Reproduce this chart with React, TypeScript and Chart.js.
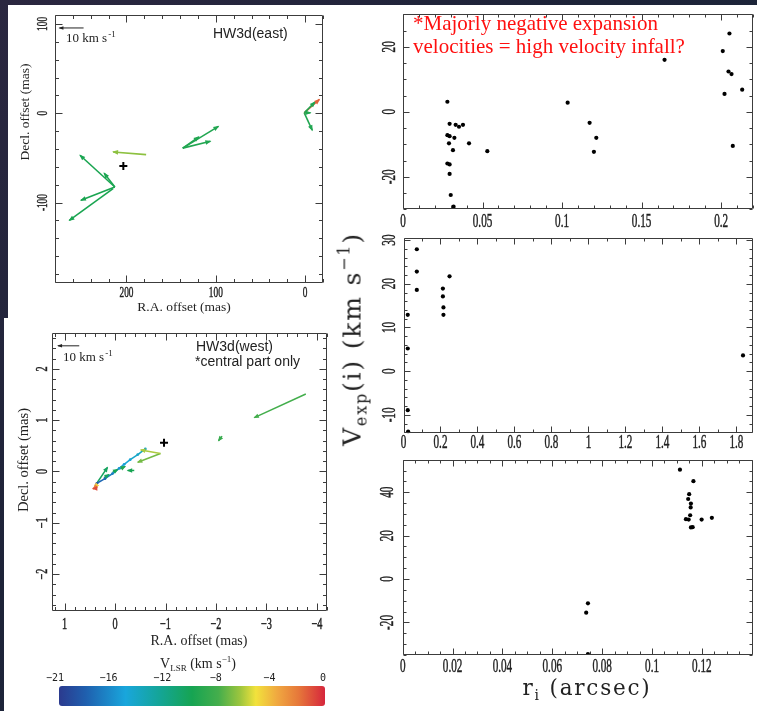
import { useEffect, useRef } from 'react';
import { Chart, registerables } from 'chart.js';

Chart.register(...registerables);

// ======================= DATA =======================
// HW3d(east): maser proper-motion vectors, start (x1,y1) -> head (x2,y2), offsets in mas
const eastX1 = [1, 1, 1, 1, 137, 137, 137, 178, 213, 213, 213, 215];
const eastY1 = [0.5, 0.5, 0.5, 0.5, -39, -39, -39, -46.3, -82.5, -82.5, -82.5, -84.3];
const eastX2 = [-11, -16, -6, -8, 97, 119, 106, 215, 252, 225, 251, 264];
const eastY2 = [12.6, 15.5, 0.5, -19, -14.6, -26.5, -31.4, -43.3, -47, -67, -97.4, -120];
const eastVlsr = [-10, -1.5, -10, -10, -10, -10, -10, -7, -10.3, -10.3, -10.3, -10.3];
const eastCenterX = [203.5];
const eastCenterY = [-59];
const eastKeyX = [248, 275];
const eastKeyY = [95.5, 95.5];
const eastXTicks = [200, 100, 0];
const eastYTicks = [100, 0, -100];

// HW3d(west), central part only
const westX1 = [-3.78, -2.12, -0.9, -0.9, 0.35, 0.22, 0.05, -0.1, -0.38, 0.38, 0.4, 0.4];
const westY1 = [1.51, 0.69, 0.35, 0.35, -0.21, -0.12, -0.02, 0.05, 0.02, -0.28, -0.31, -0.33];
const westX2 = [-2.76, -2.05, -0.51, -0.45, 0.15, 0.12, -0.05, -0.2, -0.25, 0.41, 0.43, 0.44];
const westY2 = [1.05, 0.6, 0.42, 0.18, 0.08, -0.06, 0.04, 0.1, 0.02, -0.31, -0.34, -0.33];
const westVlsr = [-8.5, -9, -6.5, -7.5, -11, -11, -10.5, -10, -10.5, -5, -2.5, -1];
const westChainX = [-0.6, -0.45, -0.3, -0.18, -0.08, 0.05, 0.2, 0.36];
const westChainY = [0.44, 0.33, 0.23, 0.14, 0.06, -0.04, -0.14, -0.23];
const westChainVlsr = [-14.5, -15, -15.5, -16, -16.5, -17.5, -18.5, -19.5];
const westCenterX = [-0.97];
const westCenterY = [0.56];
const westKeyX = [0.71, 1.13];
const westKeyY = [2.45, 2.45];
const westXTicks = [1, 0, -1, -2, -3, -4];
const westYTicks = [2, 1, 0, -1, -2];

// V_LSR colour bar
const colorbarTicks = [-21, -16, -12, -8, -4, 0];

// Expansion velocity vs radius, three panels
const rExp1 = [0.0279, 0.0293, 0.0279, 0.0293, 0.0289, 0.0323, 0.0314, 0.0331, 0.0352, 0.0377, 0.0415, 0.053, 0.0279, 0.0293, 0.0293, 0.030, 0.0318, 0.1035, 0.1173, 0.1215, 0.120, 0.1644, 0.201, 0.2052, 0.2046, 0.2065, 0.2021, 0.2132, 0.2073];
const vExp1 = [3.1, -3.7, -7.2, -7.5, -9.7, -8.0, -11.8, -4.0, -4.6, -4.0, -9.7, -12.1, -15.9, -16.2, -19.1, -25.6, -29.2, 2.8, -3.4, -8.0, -12.3, 16.0, 18.7, 24.1, 12.4, 11.6, 5.5, 6.8, -10.5];
const rExp2 = [0.072, 0.072, 0.072, 0.023, 0.023, 0.023, 0.025, 0.213, 0.213, 0.216, 0.216, 0.249, 1.836];
const vExp2 = [27.9, 22.8, 18.6, 12.9, 5.2, -8.9, -13.8, 18.9, 17.1, 14.6, 12.9, 21.7, 3.6];
const rExp3 = [0.1112, 0.1166, 0.1149, 0.1145, 0.1156, 0.1155, 0.1153, 0.1136, 0.1147, 0.1199, 0.124, 0.1156, 0.1163, 0.0743, 0.0736, 0.0743];
const vExp3 = [50.4, 45.1, 39.1, 36.9, 34.8, 33.0, 29.4, 27.6, 27.4, 27.4, 28.2, 23.8, 23.9, -11.2, -15.5, -34.6];
const exp1XTicks = [0, 0.05, 0.1, 0.15, 0.2];
const exp1YTicks = [20, 0, -20];
const exp2XTicks = [0, 0.2, 0.4, 0.6, 0.8, 1, 1.2, 1.4, 1.6, 1.8];
const exp2YTicks = [30, 20, 10, 0, -10];
const exp3XTicks = [0, 0.02, 0.04, 0.06, 0.08, 0.1, 0.12];
const exp3YTicks = [40, 20, 0, -20];

// ======================= STYLE =======================
const SERIF = '"Liberation Serif", "Times New Roman", serif';
const SANS = '"Liberation Sans", Arial, sans-serif';
const TYPE = '"DejaVu Serif", "Liberation Serif", serif';

const CMAP: [number, string][] = [
  [0, '#2b3a8e'], [0.1, '#1f5fae'], [0.25, '#19a6dc'], [0.38, '#14a596'], [0.5, '#16a452'],
  [0.6, '#45ae4c'], [0.68, '#9cc53e'], [0.74, '#f2e23c'], [0.82, '#f0a840'], [0.9, '#e6783a'], [1, '#d6263c'],
];
const VMIN = colorbarTicks[0];
const VMAX = colorbarTicks[colorbarTicks.length - 1];

function hexRgb(h: string) {
  return [parseInt(h.slice(1, 3), 16), parseInt(h.slice(3, 5), 16), parseInt(h.slice(5, 7), 16)];
}
function vColor(v: number) {
  const f = Math.min(1, Math.max(0, (v - VMIN) / (VMAX - VMIN)));
  for (let i = 1; i < CMAP.length; i++) {
    if (f <= CMAP[i][0]) {
      const [f0, c0] = CMAP[i - 1];
      const [f1, c1] = CMAP[i];
      const t = (f - f0) / (f1 - f0);
      const a = hexRgb(c0), b = hexRgb(c1);
      return `rgb(${a.map((x, k) => Math.round(x + (b[k] - x) * t)).join(',')})`;
    }
  }
  return CMAP[CMAP.length - 1][1];
}

type Box = { left: number; top: number; width: number; height: number };
type Area = { left: number; top: number; right: number; bottom: number };
type Txt = {
  text: string; x: number; y: number; size: number; family: string;
  align?: CanvasTextAlign; baseline?: CanvasTextBaseline; rotate?: boolean;
  scaleX?: number; sup?: string; color?: string; bold?: number;
};
type Frame = {
  xMajor: number[]; xLabels: string[]; xMinor: number;
  yMajor: number[]; yLabels: string[]; yMinor: number;
  majorLen: number; minorLen: number; tickSize: number; tickScaleX: number;
  xLabelY: number; yLabelX: number; texts: Txt[];
};

function drawTxt(ctx: CanvasRenderingContext2D, t: Txt, ox: number, oy: number) {
  ctx.save();
  ctx.translate(t.x - ox, t.y - oy);
  if (t.rotate) ctx.rotate(-Math.PI / 2);
  ctx.scale(t.scaleX ?? 1, 1);
  ctx.fillStyle = t.color ?? '#222';
  ctx.strokeStyle = t.color ?? '#222';
  ctx.textBaseline = t.baseline ?? 'alphabetic';
  const mainFont = `${t.size}px ${t.family}`;
  const supFont = `${Math.round(t.size * 0.7)}px ${t.family}`;
  if (t.sup) {
    ctx.font = mainFont;
    const w1 = ctx.measureText(t.text).width;
    ctx.font = supFont;
    const w2 = ctx.measureText(t.sup).width;
    const total = w1 + w2 + 1;
    const x0 = t.align === 'center' ? -total / 2 : t.align === 'right' ? -total : 0;
    ctx.textAlign = 'left';
    ctx.font = mainFont;
    ctx.fillText(t.text, x0, 0);
    ctx.font = supFont;
    ctx.fillText(t.sup, x0 + w1 + 1, -t.size * 0.42);
  } else {
    ctx.font = mainFont;
    ctx.textAlign = t.align ?? 'left';
    ctx.fillText(t.text, 0, 0);
    if (t.bold) {
      ctx.lineWidth = t.bold;
      ctx.strokeText(t.text, 0, 0);
    }
  }
  ctx.restore();
}

function stepValues(lo: number, hi: number, step: number) {
  const out: number[] = [];
  const k0 = Math.ceil(lo / step - 1e-6);
  const k1 = Math.floor(hi / step + 1e-6);
  for (let k = k0; k <= k1; k++) out.push(+(k * step).toFixed(10));
  return out;
}

function makeFramePlugin(f: Frame, box: Box) {
  return {
    id: 'pgframe',
    afterDraw(chart: any) {
      const { ctx, chartArea: a, scales } = chart;
      const xs = scales.x, ys = scales.y;
      const ox = box.left, oy = box.top;
      ctx.save();
      ctx.strokeStyle = '#3c3c3c';
      ctx.lineWidth = 1;
      const L = Math.round(a.left) + 0.5, R = Math.round(a.right) - 0.5;
      const T = Math.round(a.top) + 0.5, B = Math.round(a.bottom) - 0.5;
      ctx.beginPath();
      ctx.rect(L, T, R - L, B - T);
      const isMajor = (arr: number[], v: number, st: number) => arr.some((m) => Math.abs(m - v) < st * 1e-3);
      const xmin = Math.min(xs.min, xs.max), xmax = Math.max(xs.min, xs.max);
      for (const v of stepValues(xmin, xmax, f.xMinor)) {
        const p = Math.round(xs.getPixelForValue(v)) + 0.5;
        const len = isMajor(f.xMajor, v, f.xMinor) ? f.majorLen : f.minorLen;
        ctx.moveTo(p, B); ctx.lineTo(p, B - len);
        ctx.moveTo(p, T); ctx.lineTo(p, T + len);
      }
      const ymin = Math.min(ys.min, ys.max), ymax = Math.max(ys.min, ys.max);
      for (const v of stepValues(ymin, ymax, f.yMinor)) {
        const p = Math.round(ys.getPixelForValue(v)) + 0.5;
        const len = isMajor(f.yMajor, v, f.yMinor) ? f.majorLen : f.minorLen;
        ctx.moveTo(L, p); ctx.lineTo(L + len, p);
        ctx.moveTo(R, p); ctx.lineTo(R - len, p);
      }
      ctx.stroke();
      f.xMajor.forEach((v, i) => {
        drawTxt(ctx, {
          text: f.xLabels[i], x: xs.getPixelForValue(v) + ox, y: f.xLabelY, size: f.tickSize,
          family: SERIF, align: 'center', baseline: 'middle', scaleX: f.tickScaleX, bold: 0.45,
        }, ox, oy);
      });
      f.yMajor.forEach((v, i) => {
        drawTxt(ctx, {
          text: f.yLabels[i], x: f.yLabelX, y: ys.getPixelForValue(v) + oy, size: f.tickSize,
          family: SERIF, align: 'center', baseline: 'middle', rotate: true, scaleX: f.tickScaleX, bold: 0.45,
        }, ox, oy);
      });
      f.texts.forEach((t) => drawTxt(ctx, t, ox, oy));
      ctx.restore();
    },
  };
}

const arrowPlugin = {
  id: 'arrowheads',
  afterDatasetsDraw(chart: any) {
    const ctx = chart.ctx as CanvasRenderingContext2D;
    const ca = chart.chartArea;
    chart.data.datasets.forEach((ds: any, i: number) => {
      if (!ds.head) return;
      const pts = chart.getDatasetMeta(i).data;
      if (pts.length < 2) return;
      const p0 = pts[pts.length - 2], p1 = pts[pts.length - 1];
      const ang = Math.atan2(p1.y - p0.y, p1.x - p0.x);
      const len = ds.headLen ?? 5;
      const w = ds.headWidth ?? 2.3;
      ctx.save();
      ctx.beginPath();
      ctx.rect(ca.left, ca.top, ca.right - ca.left, ca.bottom - ca.top);
      ctx.clip();
      ctx.translate(p1.x, p1.y);
      ctx.rotate(ang);
      ctx.fillStyle = ds.borderColor;
      ctx.beginPath();
      ctx.moveTo(1, 0);
      ctx.lineTo(-len, w);
      ctx.lineTo(-len, -w);
      ctx.closePath();
      ctx.fill();
      ctx.restore();
    });
  },
};

function arrowSets(x1: number[], y1: number[], x2: number[], y2: number[], v: number[], width: number, headLen: number) {
  return x1.map((_, i) => ({
    data: [{ x: x1[i], y: y1[i] }, { x: x2[i], y: y2[i] }],
    showLine: true,
    borderColor: vColor(v[i]),
    backgroundColor: vColor(v[i]),
    borderWidth: width,
    pointRadius: 0,
    head: true,
    headLen,
  }));
}

function plusSet(x: number[], y: number[]) {
  return {
    data: x.map((xx, i) => ({ x: xx, y: y[i] })),
    pointStyle: 'cross',
    pointRadius: 4,
    borderColor: '#000',
    borderWidth: 2,
  };
}

function keySet(x: number[], y: number[]) {
  return {
    data: x.map((xx, i) => ({ x: xx, y: y[i] })),
    showLine: true,
    borderColor: '#222',
    backgroundColor: '#222',
    borderWidth: 1,
    pointRadius: 0,
    head: true,
    headLen: 4,
    headWidth: 1.8,
  };
}

function dotSet(x: number[], y: number[]) {
  return {
    data: x.map((xx, i) => ({ x: xx, y: y[i] })),
    pointRadius: 2.1,
    pointBackgroundColor: '#000',
    pointBorderWidth: 0,
    borderColor: '#000',
  };
}

function makeConfig(box: Box, area: Area, xr: [number, number], yr: [number, number], rev: boolean, datasets: any[], frame: Frame) {
  return {
    type: 'scatter',
    data: { datasets },
    options: {
      responsive: false,
      maintainAspectRatio: false,
      animation: false,
      events: [],
      layout: {
        padding: {
          left: area.left - box.left,
          top: area.top - box.top,
          right: box.left + box.width - area.right,
          bottom: box.top + box.height - area.bottom,
        },
      },
      plugins: { legend: { display: false }, tooltip: { enabled: false } },
      scales: {
        x: { type: 'linear', display: false, min: xr[0], max: xr[1], reverse: rev },
        y: { type: 'linear', display: false, min: yr[0], max: yr[1] },
      },
    },
    plugins: [arrowPlugin, makeFramePlugin(frame, box)],
  };
}

// ======================= PANELS =======================
const EAST_BOX: Box = { left: 8, top: 5, width: 332, height: 313 };
const EAST_AREA: Area = { left: 55, top: 15, right: 323, bottom: 283 };
const WEST_BOX: Box = { left: 4, top: 318, width: 336, height: 393 };
const WEST_AREA: Area = { left: 52, top: 333, right: 327, bottom: 611 };
const E1_BOX: Box = { left: 340, top: 5, width: 417, height: 227 };
const E1_AREA: Area = { left: 403, top: 14.3, right: 753.3, bottom: 209.3 };
const E2_BOX: Box = { left: 340, top: 232, width: 417, height: 223 };
const E2_AREA: Area = { left: 403.5, top: 238.3, right: 753.3, bottom: 433.3 };
const E3_BOX: Box = { left: 340, top: 455, width: 417, height: 256 };
const E3_AREA: Area = { left: 402.7, top: 459.7, right: 753.3, bottom: 655 };

const minusLabel = (v: number) => (v < 0 ? '\u2212' + String(-v) : String(v));

function eastConfig() {
  const datasets = [
    ...arrowSets(eastX1, eastY1, eastX2, eastY2, eastVlsr, 1.6, 5),
    plusSet(eastCenterX, eastCenterY),
    keySet(eastKeyX, eastKeyY),
  ];
  const frame: Frame = {
    xMajor: eastXTicks, xLabels: eastXTicks.map(String), xMinor: 20,
    yMajor: eastYTicks, yLabels: eastYTicks.map(String), yMinor: 20,
    majorLen: 7, minorLen: 3.5, tickSize: 15, tickScaleX: 0.62,
    xLabelY: 293, yLabelX: 43,
    texts: [
      { text: 'HW3d(east)', x: 213, y: 38, size: 14, family: SANS },
      { text: '10 km s', sup: '-1', x: 66, y: 42, size: 13, family: SERIF },
      { text: 'Decl. offset (mas)', x: 25, y: 112, size: 13.5, family: SERIF, align: 'center', baseline: 'middle', rotate: true },
      { text: 'R.A. offset (mas)', x: 184, y: 307, size: 13.5, family: SERIF, align: 'center', baseline: 'middle' },
    ],
  };
  return makeConfig(EAST_BOX, EAST_AREA, [-20, 280], [-190, 110], true, datasets, frame);
}

function westConfig() {
  const chain = {
    data: westChainX.map((x, i) => ({ x, y: westChainY[i] })),
    showLine: true,
    borderWidth: 1.6,
    borderColor: vColor(westChainVlsr[0]),
    segment: { borderColor: (c: any) => vColor(westChainVlsr[c.p0DataIndex]) },
    pointRadius: 1.4,
    pointBorderWidth: 0,
    pointBackgroundColor: westChainVlsr.map(vColor),
  };
  const datasets = [
    chain,
    ...arrowSets(westX1, westY1, westX2, westY2, westVlsr, 1.5, 4.5),
    plusSet(westCenterX, westCenterY),
    keySet(westKeyX, westKeyY),
  ];
  const frame: Frame = {
    xMajor: westXTicks, xLabels: westXTicks.map(minusLabel), xMinor: 0.2,
    yMajor: westYTicks, yLabels: westYTicks.map(minusLabel), yMinor: 0.2,
    majorLen: 7, minorLen: 3.5, tickSize: 16, tickScaleX: 0.64,
    xLabelY: 625, yLabelX: 43,
    texts: [
      { text: 'HW3d(west)', x: 196, y: 351, size: 14, family: SANS },
      { text: '*central part only', x: 195, y: 366, size: 14, family: SANS },
      { text: '10 km s', sup: '-1', x: 63, y: 361, size: 13, family: SERIF },
      { text: 'Decl. offset (mas)', x: 24, y: 460, size: 14.5, family: SERIF, align: 'center', baseline: 'middle', rotate: true },
      { text: 'R.A. offset (mas)', x: 199, y: 641, size: 14, family: SERIF, align: 'center', baseline: 'middle' },
    ],
  };
  return makeConfig(WEST_BOX, WEST_AREA, [-4.2, 1.25], [-2.72, 2.7], true, datasets, frame);
}

function expConfig(box: Box, area: Area, r: number[], v: number[], xr: [number, number], yr: [number, number],
  xt: number[], yt: number[], xMinor: number, yMinor: number, xLabelY: number, yLabelX: number) {
  const frame: Frame = {
    xMajor: xt, xLabels: xt.map(String), xMinor,
    yMajor: yt, yLabels: yt.map(String), yMinor,
    majorLen: 6, minorLen: 3, tickSize: 18, tickScaleX: 0.62,
    xLabelY, yLabelX, texts: [],
  };
  return makeConfig(box, area, xr, yr, false, [dotSet(r, v)], frame);
}

function ChartCanvas({ box, make }: { box: Box; make: () => any }) {
  const ref = useRef<HTMLCanvasElement | null>(null);
  useEffect(() => {
    if (!ref.current) return;
    const chart = new Chart(ref.current, make());
    return () => chart.destroy();
  }, []);
  return (
    <canvas
      ref={ref}
      width={box.width}
      height={box.height}
      style={{ position: 'absolute', left: box.left, top: box.top, width: box.width, height: box.height, background: '#fff', display: 'block' }}
    />
  );
}

export default function App() {
  const gradient = `linear-gradient(to right, ${CMAP.map(([f, c]) => `${c} ${(f * 100).toFixed(1)}%`).join(', ')})`;
  const cbLeft = 59, cbWidth = 266;
  return (
    <div style={{ position: 'absolute', left: 0, top: 0, width: 757, height: 711, overflow: 'hidden', background: 'linear-gradient(135deg, #2b2740 0%, #1d2338 40%, #1a2a3c 100%)' }}>
      <ChartCanvas box={EAST_BOX} make={eastConfig} />
      <ChartCanvas box={WEST_BOX} make={westConfig} />
      <ChartCanvas box={E1_BOX} make={() => expConfig(E1_BOX, E1_AREA, rExp1, vExp1, [0, 0.22], [-30, 30], exp1XTicks, exp1YTicks, 0.01, 5, 222, 390)} />
      <ChartCanvas box={E2_BOX} make={() => expConfig(E2_BOX, E2_AREA, rExp2, vExp2, [0, 1.89], [-14.2, 30.4], exp2XTicks, exp2YTicks, 0.1, 2, 443.5, 390)} />
      <ChartCanvas box={E3_BOX} make={() => expConfig(E3_BOX, E3_AREA, rExp3, vExp3, [0, 0.1405], [-35, 55], exp3XTicks, exp3YTicks, 0.005, 5, 667, 388)} />

      {/* colour bar */}
      <div style={{ position: 'absolute', left: 118, width: 160, top: 650, textAlign: 'center', font: `14px ${SERIF}`, color: '#222', lineHeight: '18px', whiteSpace: 'nowrap' }}>
        V<sub style={{ fontSize: 9, verticalAlign: -3 }}>LSR</sub> (km s<sup style={{ fontSize: 9, verticalAlign: 6 }}>−1</sup>)
      </div>
      {colorbarTicks.map((t, i) => (
        <div key={i} style={{ position: 'absolute', left: 55 + i * 53.6 - 15, width: 30, top: 672, textAlign: 'center', font: `10px "DejaVu Sans Mono", monospace`, color: '#222', lineHeight: '12px' }}>
          {t < 0 ? '−' + (-t) : t}
        </div>
      ))}
      <div style={{ position: 'absolute', left: cbLeft, top: 686, width: cbWidth, height: 20, borderRadius: 3, background: gradient }} />

      {/* red annotation */}
      <div style={{ position: 'absolute', left: 413, top: 12, font: `21px ${SERIF}`, color: '#ff1010', lineHeight: '23px', whiteSpace: 'nowrap' }}>
        *Majorly negative expansion<br />velocities = high velocity infall?
      </div>

      {/* big axis titles */}
      <div style={{ position: 'absolute', left: 353, top: 339, transform: 'translate(-50%, -50%) rotate(-90deg)', font: `25px ${TYPE}`, letterSpacing: 1.8, color: '#222', whiteSpace: 'nowrap', lineHeight: '28px' }}>
        V<sub style={{ fontSize: 16, verticalAlign: -6 }}>exp</sub>(i)  (km s<sup style={{ fontSize: 16, verticalAlign: 11 }}>−1</sup>)
      </div>
      <div style={{ position: 'absolute', left: 587, top: 691, transform: 'translate(-50%, -50%)', font: `21.5px ${TYPE}`, letterSpacing: 1.8, color: '#222', whiteSpace: 'nowrap', lineHeight: '24px' }}>
        r<sub style={{ fontSize: 14, verticalAlign: -5 }}>i</sub> (arcsec)
      </div>
    </div>
  );
}
